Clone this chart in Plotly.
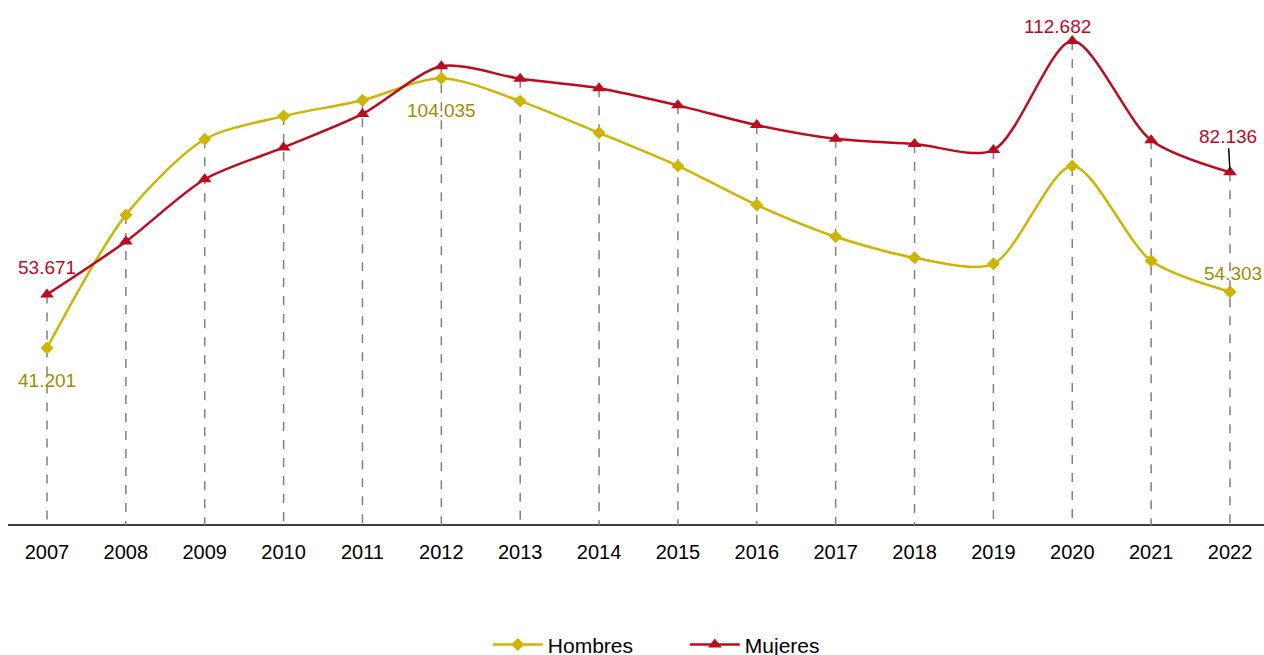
import plotly.graph_objects as go

years = [2007, 2008, 2009, 2010, 2011, 2012, 2013, 2014, 2015, 2016, 2017, 2018, 2019, 2020, 2021, 2022]
hombres = [41.201, 72.2, 89.8, 95.2, 98.9, 104.035, 98.7, 91.3, 83.6, 74.5, 67.1, 62.2, 60.8, 83.6, 61.5, 54.303]
mujeres = [53.671, 66.0, 80.5, 87.9, 95.7, 106.8, 103.9, 101.7, 97.7, 93.1, 89.9, 88.7, 87.3, 112.682, 89.6, 82.136]
tick_labels = [str(y) for y in years]

C_H = "#CDB500"
C_H_TXT = "#9E8D00"
C_M = "#BE0A1E"

fig = go.Figure()

# dashed drop lines from the higher point down to the axis
dx, dy = [], []
for yr, h, m in zip(years, hombres, mujeres):
    dx += [yr, yr, None]
    dy += [max(h, m), 0, None]
fig.add_trace(go.Scatter(x=dx, y=dy, mode="lines", showlegend=False, hoverinfo="skip",
                         line=dict(color="#808080", width=1.5, dash="dash")))

fig.add_trace(go.Scatter(x=years, y=hombres, name="Hombres", mode="lines+markers",
                         line=dict(color=C_H, width=2.5, shape="spline", smoothing=0.8),
                         marker=dict(symbol="diamond", size=10, color=C_H)))
fig.add_trace(go.Scatter(x=years, y=mujeres, name="Mujeres", mode="lines+markers",
                         line=dict(color=C_M, width=2.5, shape="spline", smoothing=0.8),
                         marker=dict(symbol="triangle-up", size=12, color=C_M)))

font_lbl = dict(family="Liberation Sans, Arial, sans-serif", size=19)
def fmt(v):
    return f"{v:.3f}"

ann = []
# 2007
ann.append(dict(x=years[0], y=mujeres[0], text=fmt(mujeres[0]), showarrow=False, yshift=27,
                font=dict(color=C_M, **font_lbl)))
ann.append(dict(x=years[0], y=hombres[0], text=fmt(hombres[0]), showarrow=False, yshift=-32,
                font=dict(color=C_H_TXT, **font_lbl)))
# 2012 hombres
ann.append(dict(x=years[5], y=hombres[5], text=fmt(hombres[5]), showarrow=False, yshift=-32,
                font=dict(color=C_H_TXT, **font_lbl)))
# 2020 mujeres
ann.append(dict(x=years[13], y=mujeres[13], text=fmt(mujeres[13]), showarrow=False, yshift=15, xshift=-15,
                font=dict(color=C_M, **font_lbl)))
# 2022
ann.append(dict(x=years[15], y=mujeres[15], text=fmt(mujeres[15]), showarrow=True, arrowhead=0,
                arrowwidth=1.5, arrowcolor="black", ax=-2, ay=-36, standoff=2,
                font=dict(color=C_M, **font_lbl)))
ann.append(dict(x=years[15], y=hombres[15], text=fmt(hombres[15]), showarrow=False, yshift=18, xshift=3,
                font=dict(color=C_H_TXT, **font_lbl)))

H = 666
B = 132
fig.update_layout(
    width=1264, height=H,
    margin=dict(l=8, r=0, t=0, b=B),
    paper_bgcolor="white", plot_bgcolor="white",
    font=dict(family="Liberation Sans, Arial, sans-serif", size=20, color="black"),
    annotations=ann,
    legend=dict(orientation="h", x=0.382, xanchor="left", y=-0.2285, yanchor="middle",
                font=dict(size=21), itemwidth=50, entrywidth=132, entrywidthmode="pixels",
                tracegroupgap=0),
    xaxis=dict(range=[2007 - 0.4945, 2022 + 0.431], tickvals=years, ticktext=tick_labels,
               showgrid=False, zeroline=False, showline=False, ticks="",
               tickfont=dict(size=20), ticklabelstandoff=13),
    yaxis=dict(range=[0, 122.23], showgrid=False, zeroline=True, zerolinecolor="#404040",
               zerolinewidth=1.5, showticklabels=False, showline=False),
)

fig.write_html("out.html", config={"displayModeBar": False},
               post_script="document.body.style.margin='0';document.body.style.overflow='hidden';")
